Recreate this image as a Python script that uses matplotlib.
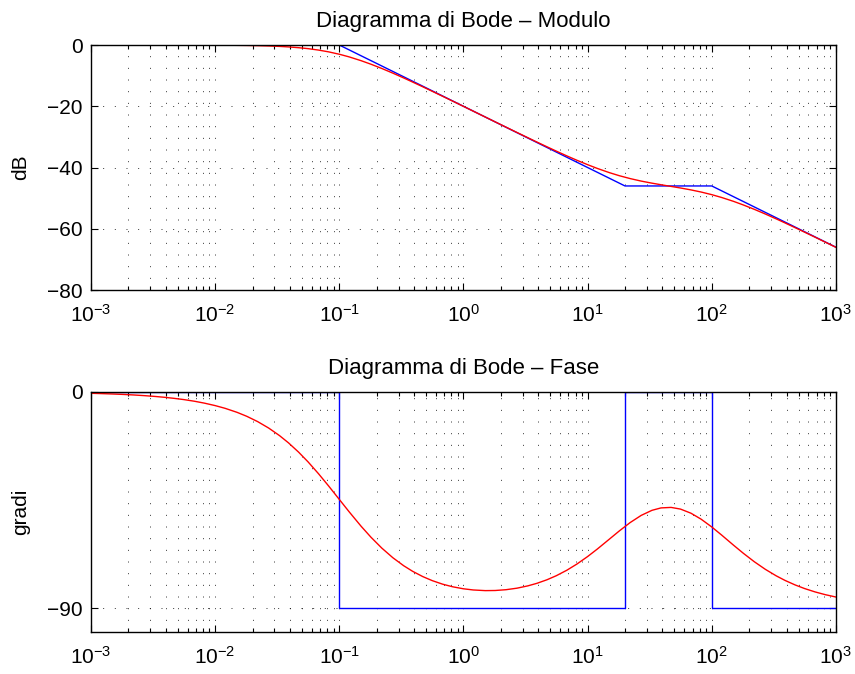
import matplotlib
matplotlib.use('Agg')
import matplotlib.pyplot as plt
import numpy as np
from matplotlib.ticker import FixedLocator, NullFormatter, LogFormatterSciNotation

plt.rcParams['font.family'] = ['Liberation Sans', 'DejaVu Sans']
plt.rcParams['mathtext.fontset'] = 'custom'
plt.rcParams['mathtext.rm'] = 'Liberation Sans'
plt.rcParams['mathtext.it'] = 'Liberation Sans'
plt.rcParams['mathtext.default'] = 'regular'

# frequencies (rad/s) at which the red curves were read
w = [0.001, 0.0012, 0.0015, 0.0018, 0.0022, 0.0027, 0.0033, 0.0039, 0.0047, 0.0056, 0.0068, 0.0082,
     0.01, 0.012, 0.015, 0.018, 0.022, 0.027, 0.033, 0.039, 0.047, 0.056, 0.068, 0.082,
     0.1, 0.12, 0.15, 0.18, 0.22, 0.27, 0.33, 0.39, 0.47, 0.56, 0.68, 0.82,
     1, 1.2, 1.5, 1.8, 2.2, 2.7, 3.3, 3.9, 4.7, 5.6, 6.8, 8.2,
     10, 12, 15, 18, 22, 27, 33, 39, 47, 56, 68, 82,
     100, 120, 150, 180, 220, 270, 330, 390, 470, 560, 680, 820,
     1000]

# modulo (dB)
mod_db = [0.0, 0.0, 0.0, 0.0, 0.0, 0.0, 0.0, -0.01, -0.01, -0.01, -0.02, -0.03,
          -0.04, -0.06, -0.10, -0.14, -0.21, -0.31, -0.45, -0.62, -0.87, -1.18, -1.65, -2.23,
          -3.01, -3.87, -5.12, -6.27, -7.66, -9.18, -10.75, -12.10, -13.63, -15.10, -16.74, -18.33,
          -20.03, -21.60, -23.52, -25.09, -26.81, -28.56, -30.26, -31.67, -33.22, -34.65, -36.20, -37.63,
          -39.07, -40.31, -41.68, -42.67, -43.61, -44.43, -45.11, -45.62, -46.17, -46.68, -47.31, -48.00,
          -48.86, -49.78, -51.06, -52.24, -53.65, -55.18, -56.76, -58.11, -59.65, -61.12, -62.76, -64.36,
          -66.06]

# fase (gradi)
fase = [-0.57, -0.69, -0.86, -1.03, -1.26, -1.55, -1.89, -2.23, -2.69, -3.19, -3.87, -4.67,
        -5.69, -6.81, -8.49, -10.16, -12.36, -15.05, -18.19, -21.22, -25.07, -29.12, -34.06, -39.16,
        -44.77, -49.92, -55.97, -60.53, -65.05, -69.06, -72.39, -74.73, -76.91, -78.59, -80.08, -81.17,
        -82.00, -82.49, -82.76, -82.71, -82.38, -81.74, -80.78, -79.73, -78.25, -76.54, -74.27, -71.69,
        -68.57, -65.40, -61.28, -57.90, -54.42, -51.43, -49.31, -48.31, -48.10, -48.80, -50.52, -52.99,
        -56.25, -59.61, -63.87, -67.25, -70.72, -73.89, -76.59, -78.54, -80.41, -81.91, -83.31, -84.44,
        -85.43]

# diagrammi asintotici (blu)
w_asi_mod = [0.001, 0.1, 20, 100, 1000]
asi_mod = [0, 0, -46.02, -46.02, -66.02]
w_asi_fase = [0.001, 0.1, 0.1, 20, 20, 100, 100, 1000]
asi_fase = [0, 0, -90, -90, 0, 0, -90, -90]

decadi = [1e-3, 1e-2, 1e-1, 1e0, 1e1, 1e2, 1e3]

FS = 15


def style_axes(ax):
    ax.set_xscale('log')
    ax.set_xlim(1e-3, 1e3)
    ax.xaxis.set_major_locator(FixedLocator(decadi))
    ax.xaxis.set_major_formatter(LogFormatterSciNotation())
    minori = [d * k for d in decadi[:-1] for k in range(2, 10)]
    ax.xaxis.set_minor_locator(FixedLocator(minori))
    ax.xaxis.set_minor_formatter(NullFormatter())
    ax.tick_params(which='both', direction='in', top=True, right=True,
                   labelsize=FS, width=0.8)
    ax.tick_params(which='major', length=5, pad=6)
    ax.tick_params(axis='x', which='major', pad=10)
    ax.tick_params(which='minor', length=3)
    ax.grid(True, which='major', axis='both', color='k', linewidth=0.7,
            linestyle=(0, (1, 11)), alpha=0.8)
    ax.grid(True, which='minor', axis='x', color='k', linewidth=0.7,
            linestyle=(0, (1, 11)), alpha=0.8)
    for s in ax.spines.values():
        s.set_linewidth(1.0)


fig = plt.figure(figsize=(8.55, 6.74), dpi=100)

ax1 = fig.add_axes([0.1064, 0.5697, 0.8713, 0.3635])
ax1.plot(w_asi_mod, asi_mod, color='blue', linewidth=1.0)
ax1.plot(w, mod_db, color='red', linewidth=1.0)
style_axes(ax1)
ax1.set_ylim(-80, 0)
ax1.set_yticks([-80, -60, -40, -20, 0])
ax1.set_ylabel('dB', fontsize=FS, labelpad=12)
ax1.set_title('Diagramma di Bode \u2013 Modulo', fontsize=16, pad=13)

ax2 = fig.add_axes([0.1064, 0.0623, 0.8713, 0.3562])
ax2.plot(w_asi_fase, asi_fase, color='blue', linewidth=1.0)
ax2.plot(w, fase, color='red', linewidth=1.0)
style_axes(ax2)
ax2.set_ylim(-100, 0)
ax2.set_yticks([-90, 0])
ax2.set_ylabel('gradi', fontsize=FS, labelpad=12)
ax2.set_title('Diagramma di Bode \u2013 Fase', fontsize=16, pad=13)

fig.savefig('out.png', dpi=100)
